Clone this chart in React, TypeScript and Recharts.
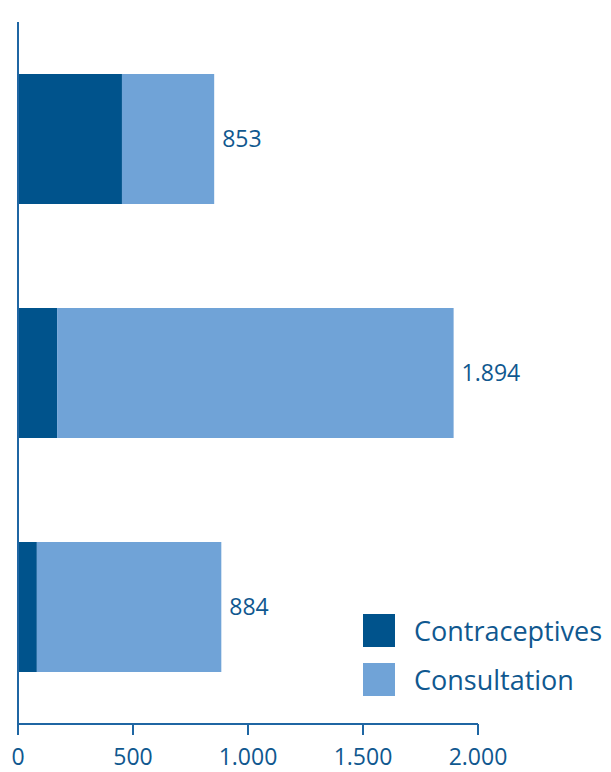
import React from "react";
import { BarChart, Bar, XAxis, YAxis, Legend, LabelList } from "recharts";

const categories = ["Group A", "Group B", "Group C"];
const seriesNames = ["Contraceptives", "Consultation"];
const contraceptives = [452, 170, 82];
const consultation = [401, 1724, 802];
const totals = [853, 1894, 884];
const xTicks = [0, 500, 1000, 1500, 2000];

const DARK = "#00538C";
const LIGHT = "#70A3D7";
const TEXT = "#10588F";
const AXIS = "#1F66A3";
const FONT = "'Open Sans', sans-serif";

const data = categories.map((name, i) => ({
  name,
  contraceptives: contraceptives[i],
  consultation: consultation[i],
  total: totals[i],
}));

const fmt = (v: number) => String(v).replace(/\B(?=(\d{3})+(?!\d))/g, ".");

const LegendContent = (props: any) => {
  const payload = [...(props.payload || [])].sort(
    (a: any, b: any) => seriesNames.indexOf(a.value) - seriesNames.indexOf(b.value)
  );
  return (
    <div style={{ fontFamily: FONT }}>
      {payload.map((p: any, i: number) => (
        <div key={i} style={{ display: "flex", alignItems: "center", height: 33, marginBottom: i === 0 ? 16 : 0 }}>
          <div style={{ width: 32, height: 33, background: p.color, marginRight: 19 }} />
          <span style={{ fontSize: 27, color: TEXT, lineHeight: "33px" }}>{p.value}</span>
        </div>
      ))}
    </div>
  );
};

export default function App() {
  return (
    <div style={{ position: "absolute", left: 0, top: 0, background: "#fff" }}>
      <BarChart
        width={611}
        height={772}
        data={data}
        layout="vertical"
        margin={{ top: 22, right: 133, bottom: 0, left: 17 }}
        barCategoryGap={0}
      >
        <XAxis
          type="number"
          domain={[0, 2000]}
          ticks={xTicks}
          tickFormatter={fmt}
          height={48}
          tickSize={11}
          tickMargin={14}
          axisLine={{ stroke: AXIS, strokeWidth: 2 }}
          tickLine={{ stroke: AXIS, strokeWidth: 2 }}
          tick={{ fill: TEXT, fontSize: 23, fontFamily: FONT }}
          interval={0}
        />
        <YAxis
          type="category"
          dataKey="name"
          width={1}
          tick={false}
          tickLine={false}
          axisLine={{ stroke: AXIS, strokeWidth: 2 }}
        />
        <Legend
          layout="vertical"
          align="center"
          verticalAlign="middle"
          content={<LegendContent />}
          wrapperStyle={{ left: 363, top: 614, width: 248 }}
        />
        <Bar dataKey="contraceptives" name="Contraceptives" stackId="a" fill={DARK} barSize={130} isAnimationActive={false} />
        <Bar dataKey="consultation" name="Consultation" stackId="a" fill={LIGHT} barSize={130} isAnimationActive={false}>
          <LabelList
            dataKey="total"
            position="right"
            offset={8}
            formatter={(v: any) => fmt(Number(v))}
            style={{ fill: TEXT, fontSize: 23, fontFamily: FONT }}
          />
        </Bar>
      </BarChart>
    </div>
  );
}
